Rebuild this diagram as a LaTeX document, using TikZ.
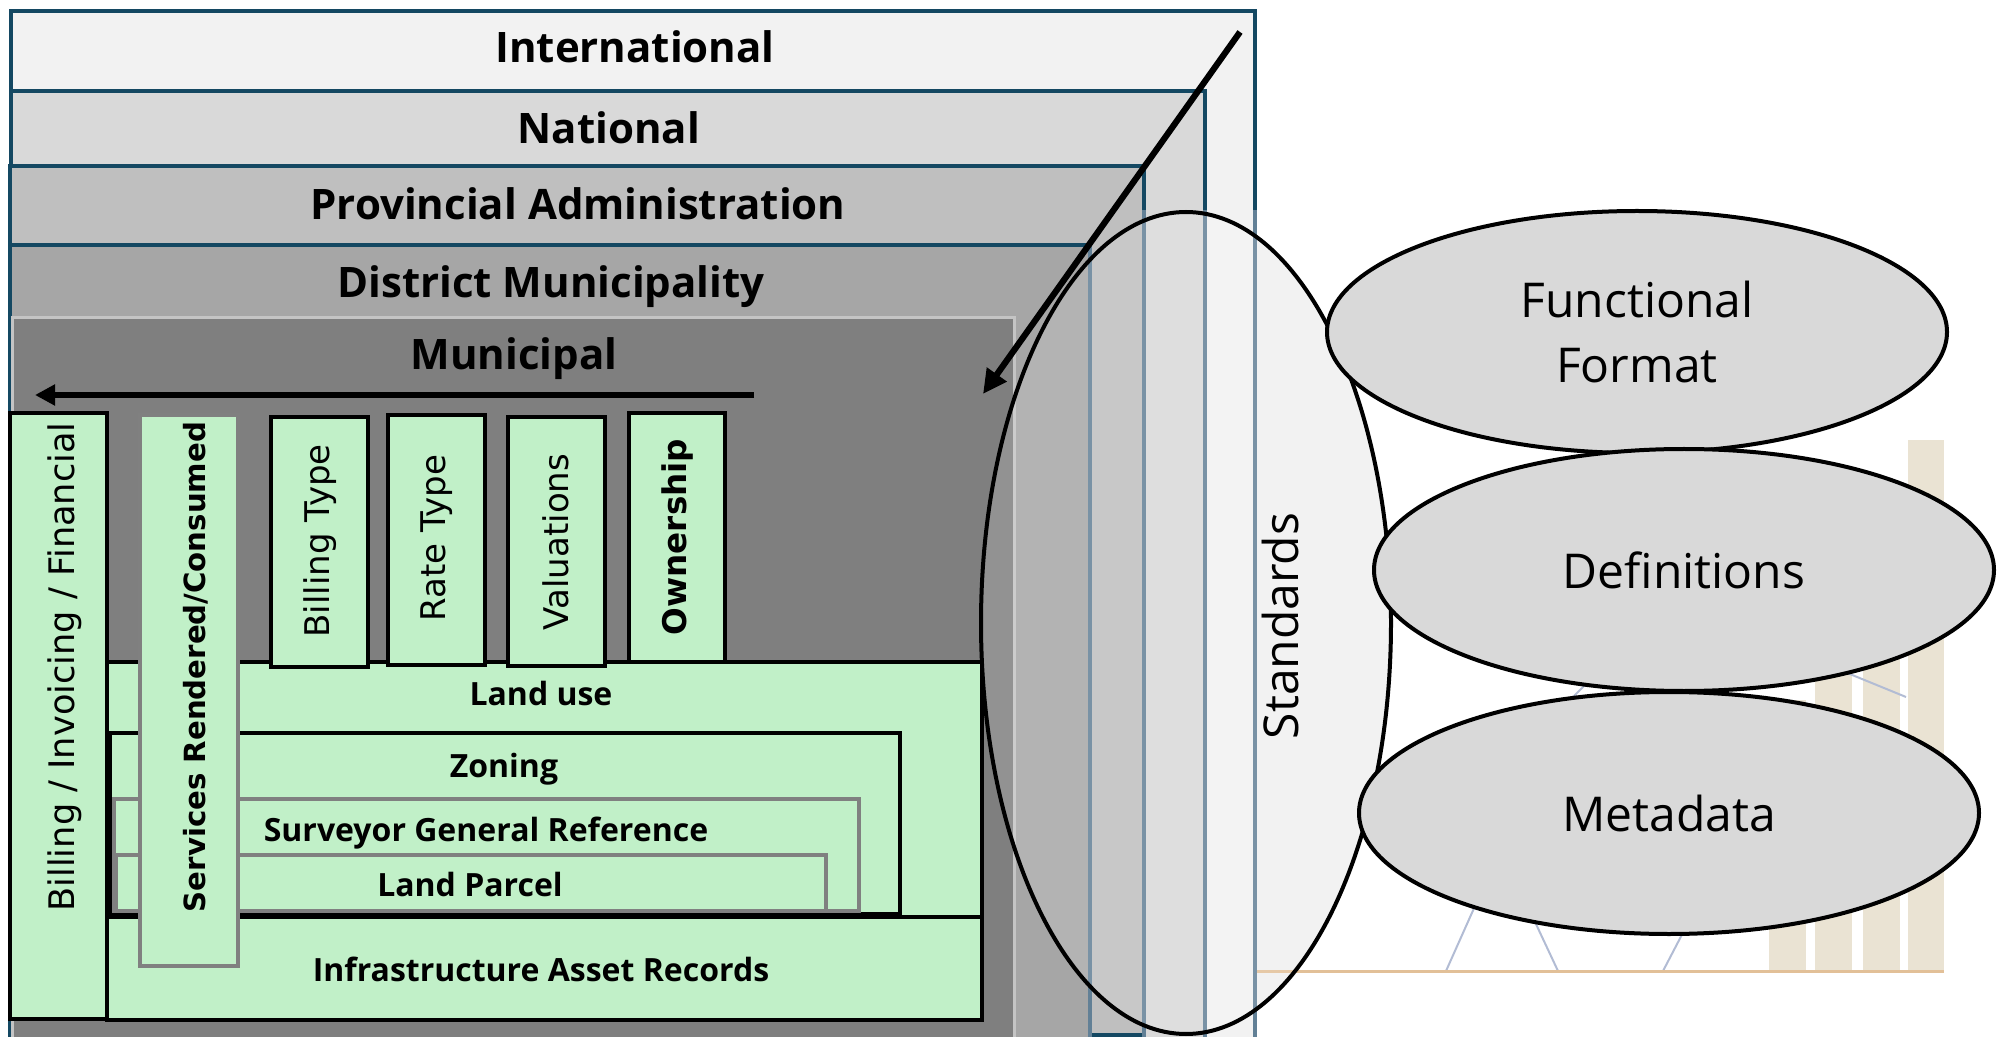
\documentclass[tikz,border=0pt]{standalone}
\usepackage{fontspec}
\setmainfont{Open Sans}
\newfontfamily\dejavu{DejaVu Sans}
\usetikzlibrary{arrows.meta,shapes.geometric}
\definecolor{bordteal}{RGB}{20,72,98}
\definecolor{bordlight}{RGB}{98,128,150}
\definecolor{intlfill}{HTML}{F2F2F2}
\definecolor{natlfill}{HTML}{D9D9D9}
\definecolor{provfill}{HTML}{BFBFBF}
\definecolor{distfill}{HTML}{A6A6A6}
\definecolor{munifill}{HTML}{7F7F7F}
\definecolor{muniborder}{HTML}{C4C4C4}
\definecolor{grn}{HTML}{C1F0C8}
\definecolor{gborder}{HTML}{808080}
\definecolor{ellg}{HTML}{D9D9D9}
\definecolor{stdfill}{HTML}{F0F0F0}
\definecolor{beigebar}{RGB}{234,227,211}
\definecolor{orangeline}{RGB}{226,192,152}
\definecolor{faintblue}{RGB}{178,188,212}
\begin{document}
\begin{tikzpicture}[x=0.5pt,y=-0.5pt,
  lvl/.style={draw=bordteal, line width=2pt},
  ttl/.style={font=\bfseries\fontsize{21}{25}\selectfont, anchor=base, inner sep=0pt},
  gbox/.style={fill=grn, draw=black, line width=2pt},
  gboxg/.style={fill=grn, draw=gborder, line width=1.6pt},
  vlab/.style={font=\dejavu\fontsize{17}{20}\selectfont, rotate=90, inner sep=0pt},
  vlabb/.style={font=\dejavu\bfseries\fontsize{16.3}{20}\selectfont, rotate=90, inner sep=0pt},
  glab/.style={font=\bfseries\fontsize{16}{19}\selectfont, anchor=base, inner sep=0pt},
  oval/.style={ellipse, draw=black, line width=2pt, fill=ellg, minimum width=310pt, minimum height=121pt, inner sep=0pt, align=center, font=\fontsize{24}{32.5}\selectfont},
  bigarrow/.style={line width=3.4pt, -{Triangle[length=10pt,width=10pt]}},
]
\useasboundingbox (0,0) rectangle (1998,1037);
\clip (0,0) rectangle (1998,1037);

% faint background picture remnants (bottom right)
\fill[beigebar] (1769,700) rectangle (1806,971);
\fill[beigebar] (1815,620) rectangle (1852,971);
\fill[beigebar] (1863,600) rectangle (1900,971);
\fill[beigebar] (1908,440) rectangle (1944,971);
\draw[faintblue, line width=1pt] (1446,971) -- (1500,850);
\draw[faintblue, line width=1pt] (1558,971) -- (1520,890);
\draw[faintblue, line width=1pt] (1663,971) -- (1700,900);
\draw[faintblue, line width=1pt] (1840,670) -- (1906,697);
\draw[faintblue, line width=1pt] (1570,700) -- (1590,680);

% Standards ellipse underlay
\fill[stdfill] (1186,623) ellipse [x radius=205, y radius=411];
\draw[orangeline, line width=1.5pt] (1255,971) -- (1944,971);

% nested administrative levels
\filldraw[lvl, fill=intlfill] (11,11) rectangle (1255,1045);
\filldraw[lvl, fill=natlfill] (11,91) rectangle (1205,1045);
\filldraw[lvl, fill=provfill] (10,166) rectangle (1144,1035);
\filldraw[lvl, fill=distfill] (10,245) rectangle (1090,1045);
\foreach \xx/\yy in {1090/245,1144/210,1205/210,1255/210}
  \draw[bordlight, line width=1.75pt] (\xx,\yy) -- (\xx,1045);
\filldraw[draw=muniborder, line width=1.5pt, fill=munifill] (12,318) rectangle (1014,1045);

\node[ttl] (intl) at (635,63) {International};
\node[ttl] (natl) at (609,144) {National};
\node[ttl] (prov) at (578,220) {Provincial Administration};
\node[ttl] (dist) at (551,298) {District Municipality};
\node[ttl] (muni) at (514,370) {Municipal};

% horizontal arrow
\coordinate (hs) at (754,395);
\coordinate (he) at (35,395);
\draw[bigarrow] (hs) -- (he);

% green data layers
\filldraw[gbox] (107,662) rectangle (982,1020);
\coordinate (dl) at (107,917);
\coordinate (dr) at (982,917);
\draw[black, line width=2pt] (dl) -- (dr);
\filldraw[gbox] (110,733) rectangle (900,914);
\filldraw[gboxg] (114,799) rectangle (859,911);
\filldraw[gboxg] (116,855) rectangle (826,911);

\node[glab] (landuse) at (541,705) {Land use};
\node[glab] (zoning) at (504,777) {Zoning};
\node[glab] (sgr) at (486,841) {Surveyor General Reference};
\node[glab] (parcel) at (470,896) {Land Parcel};
\node[glab] (infra) at (541,981) {Infrastructure Asset Records};

% vertical boxes
\filldraw[gbox] (10,413) rectangle (107,1019);
\filldraw[gboxg] (140,415) rectangle (238,966);
\filldraw[gbox] (271,417) rectangle (368,667);
\filldraw[gbox] (388,415) rectangle (485,665);
\filldraw[gbox] (508,417) rectangle (605,666);
\filldraw[gbox] (629,413) rectangle (725,662);

\node[vlab, font=\dejavu\fontsize{17.6}{20}\selectfont] (bif) at (65,667) {Billing / Invoicing / Financial};
\node[vlabb, font=\dejavu\bfseries\fontsize{14.6}{18}\selectfont] (src) at (196,667) {Services Rendered/Consumed};
\node[vlab] (btype) at (320,541) {Billing Type};
\node[vlab] (rtype) at (437,538) {Rate Type};
\node[vlab] (val) at (556,542) {Valuations};
\node[vlabb] (own) at (677,537) {Ownership};

% diagonal arrow
\coordinate (ds) at (1240,32);
\coordinate (de) at (983,394);
\draw[line width=3.1pt, -{Triangle[length=12pt,width=11.5pt]}] (ds) -- (de);

% Standards ellipse
\node[ellipse, draw=black, line width=2pt, fill=white, fill opacity=0.15,
      minimum width=205pt, minimum height=411pt, inner sep=0pt] (std) at (1186,623) {};
\node[font=\fontsize{24}{28}\selectfont, rotate=90, inner sep=0pt] (stdlab) at (1280,626) {Standards};

% right-hand ovals
\node[oval] (ff) at (1637,332) {Functional\\Format};
\node[oval] (def) at (1684,570) {Definitions};
\node[oval] (meta) at (1669,813) {Metadata};
\end{tikzpicture}
\end{document}
